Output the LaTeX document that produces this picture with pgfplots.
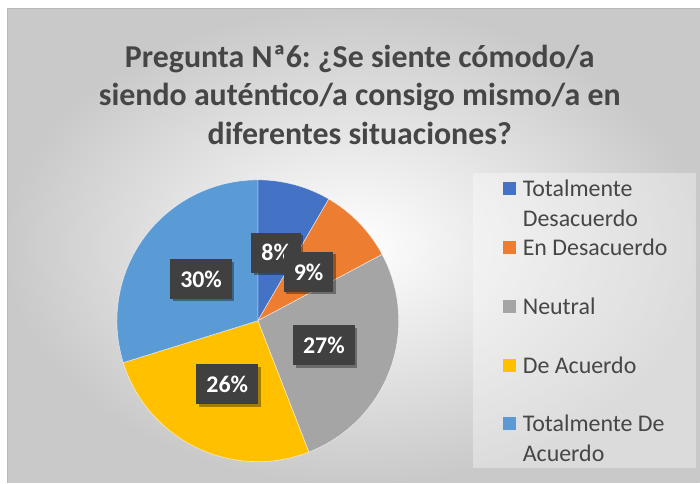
\documentclass[border=0pt]{standalone}
\usepackage{pgfplots}
\pgfplotsset{compat=1.18}
\usepackage{pgfplotstable}
\usepackage{fontspec}
\setmainfont{Carlito}
\usetikzlibrary{shadows}
\definecolor{c0}{HTML}{4472C4}
\definecolor{c1}{HTML}{ED7D31}
\definecolor{c2}{HTML}{A5A5A5}
\definecolor{c3}{HTML}{FFC000}
\definecolor{c4}{HTML}{5B9BD5}
\definecolor{txt}{HTML}{464646}
\definecolor{lbl}{HTML}{404040}
\frenchspacing

\pgfplotstableread{
idx value label
0 8.4 8
1 8.8 9
2 26.9 27
3 26.1 26
4 29.8 30
}\piedata

\begin{document}
\begin{tikzpicture}[x=1bp,y=1bp,
  lblbox/.style={fill=lbl, text=white, font=\fontsize{24}{28}\selectfont\bfseries,
    minimum height=40bp, inner xsep=10bp,
    drop shadow={shadow xshift=2.5bp, shadow yshift=-2.5bp, opacity=0.35, fill=black}}]
\fill[white] (0,0) rectangle (700,483);
\shade[inner color=white, outer color=gray!42] (8,0) rectangle (700,474);
\draw[gray!55, line width=1bp] (8,0) -- (8,474) -- (700,474);
% legend box
\fill[white, opacity=0.35] (473,15) rectangle (696,310);
% title
\node[text=txt, font=\fontsize{32}{39}\selectfont\bfseries, align=center] at (360,388)
  {Pregunta Nª6: ¿Se siente cómodo/a\\siendo auténtico/a consigo mismo/a en\\diferentes situaciones?};

\begin{axis}[at={(117bp,21bp)}, anchor=south west, scale only axis,
  width=282bp, height=282bp, xmin=-1, xmax=1, ymin=-1, ymax=1,
  hide axis, clip=false]
\def\cum{0}
\pgfplotsforeachungrouped \i in {0,...,4}{%
  \pgfplotstablegetelem{\i}{value}\of\piedata
  \let\v\pgfplotsretval
  \pgfmathsetmacro\a{90-3.6*\cum}%
  \pgfmathsetmacro\b{\a-3.6*\v}%
  \pgfmathsetmacro\newcum{\cum+\v}%
  \let\cum\newcum
  \edef\temp{\noexpand\fill[c\i, draw=white, draw opacity=0.6, line width=0.6bp] (axis cs:0,0) -- (axis cs:{cos(\a)},{sin(\a)}) arc[start angle=\a, end angle=\b, radius=141bp] -- cycle;}%
  \temp
}
\def\cum{0}
\pgfplotsforeachungrouped \i in {0,...,4}{%
  \pgfplotstablegetelem{\i}{value}\of\piedata
  \let\v\pgfplotsretval
  \pgfplotstablegetelem{\i}{label}\of\piedata
  \let\lab\pgfplotsretval
  \pgfmathsetmacro\a{90-3.6*\cum}%
  \pgfmathsetmacro\m{\a-1.8*\v}%
  \pgfmathsetmacro\newcum{\cum+\v}%
  \let\cum\newcum
  \edef\temp{\noexpand\node[lblbox] at (axis cs:{0.5*cos(\m)},{0.5*sin(\m)}) {\lab\noexpand\%};}%
  \temp
}
\end{axis}

% legend
\begin{scope}[every node/.style={text=txt, font=\fontsize{24}{30}\selectfont, anchor=base west, inner sep=0pt}]
\fill[c0] (503,287.5) rectangle +(13.5,13.5);
\node at (523,286.5) {Totalmente};
\node at (523,256.5) {Desacuerdo};
\fill[c1] (503,228.5) rectangle +(13.5,13.5);
\node at (523,227.5) {En Desacuerdo};
\fill[c2] (503,169.5) rectangle +(13.5,13.5);
\node at (523,168.5) {Neutral};
\fill[c3] (503,110.5) rectangle +(13.5,13.5);
\node at (523,109.5) {De Acuerdo};
\fill[c4] (503,52.5) rectangle +(13.5,13.5);
\node at (523,51.5) {Totalmente De};
\node at (523,21.5) {Acuerdo};
\end{scope}
\end{tikzpicture}
\end{document}
